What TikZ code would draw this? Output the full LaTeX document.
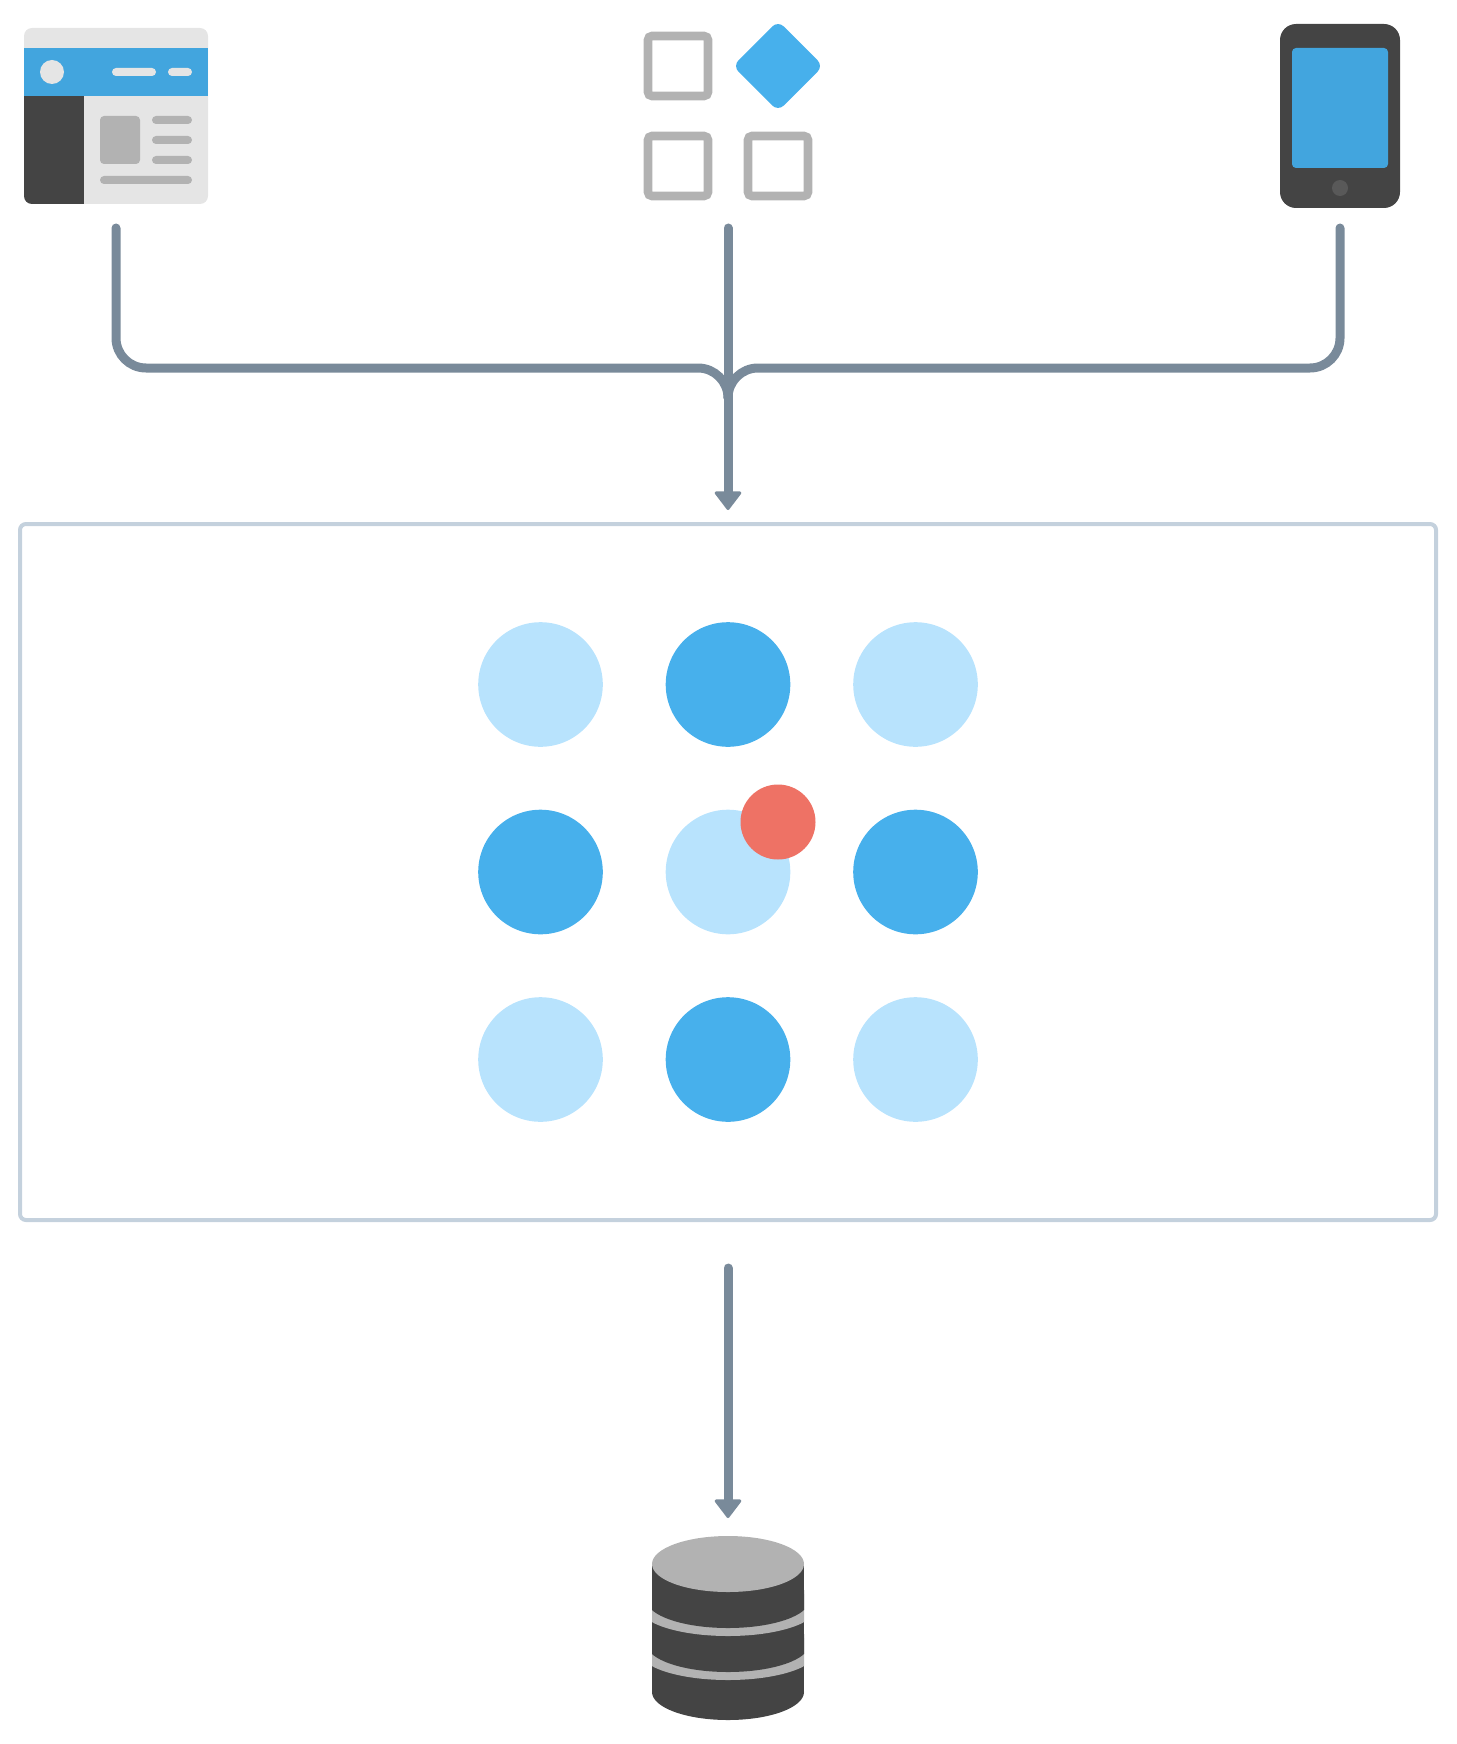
\documentclass[tikz,border=0pt]{standalone}
\usepackage{xcolor}
\usetikzlibrary{arrows.meta,shapes.geometric}
\definecolor{iconblue}{HTML}{42A5DE}
\definecolor{dotblue}{HTML}{47B0EC}
\definecolor{dotpale}{HTML}{B8E3FD}
\definecolor{dotred}{HTML}{EE7265}
\definecolor{darkgrey}{HTML}{444444}
\definecolor{midgrey}{HTML}{B2B2B2}
\definecolor{palegrey}{HTML}{E5E5E5}
\definecolor{homegrey}{HTML}{595959}
\definecolor{flowgrey}{HTML}{798A9A}
\definecolor{framegrey}{HTML}{C4D1DD}
\tikzset{
  plain/.style={rectangle,draw=none,inner sep=0pt,outer sep=0pt},
  tile/.style={plain,draw=midgrey,line width=4.3pt,minimum size=30pt,rounded corners=2pt},
  dotpalefill/.style={plain,circle,fill=dotpale,minimum size=62.3pt},
  dotbluefill/.style={plain,circle,fill=dotblue,minimum size=62.3pt},
  flow/.style={draw=flowgrey,line width=4.5pt,line cap=round},
  flowarrow/.style={flow,-{Triangle[length=9.8pt,width=14.5pt,round,line width=1.5pt]}}
}
\begin{document}
\begin{tikzpicture}[x=0.5pt,y=-0.5pt]
\useasboundingbox (0,0) rectangle (1456,1744);
\node[plain,fill=palegrey,minimum width=92pt,minimum height=88pt,rounded corners=4pt] (browser) at (116,116) {};
\begin{scope}
\clip[rounded corners=4pt] (24,28) rectangle (208,204);
\fill[iconblue] (24,48) rectangle (208,96);
\fill[darkgrey] (24,96) rectangle (84,204);
\end{scope}
\node[plain,circle,fill=palegrey,minimum size=12pt] (avatar) at (52,72) {};
\node[plain,fill=palegrey,minimum width=22pt,minimum height=4pt,rounded corners=2pt] (menuwide) at (134,72) {};
\node[plain,fill=palegrey,minimum width=12pt,minimum height=4pt,rounded corners=2pt] (menushort) at (180,72) {};
\node[plain,fill=midgrey,minimum width=20pt,minimum height=24pt,rounded corners=2pt] (picture) at (120,140) {};
\node[plain,fill=midgrey,minimum width=20pt,minimum height=4pt,rounded corners=2pt] (textone) at (172,120) {};
\node[plain,fill=midgrey,minimum width=20pt,minimum height=4pt,rounded corners=2pt] (texttwo) at (172,140) {};
\node[plain,fill=midgrey,minimum width=20pt,minimum height=4pt,rounded corners=2pt] (textthree) at (172,160) {};
\node[plain,fill=midgrey,minimum width=46pt,minimum height=4pt,rounded corners=2pt] (textlong) at (146,180) {};
\node[tile] (tileone) at (678,66) {};
\node[plain,fill=dotblue,minimum size=32pt,rounded corners=4pt,rotate=45] (tilediamond) at (778,66) {};
\node[tile] (tiletwo) at (678,166) {};
\node[tile] (tilethree) at (778,166) {};
\node[plain,fill=darkgrey,minimum width=60pt,minimum height=92pt,rounded corners=8pt] (phone) at (1340,116) {};
\node[plain,fill=iconblue,minimum width=48pt,minimum height=60pt,rounded corners=2pt] (screen) at (1340,108) {};
\node[plain,circle,fill=homegrey,minimum size=8pt] (homekey) at (1340,188) {};
\coordinate (browserout) at (116,228);
\coordinate (tilesout) at (728,228);
\coordinate (phoneout) at (1340,228);
\coordinate (merge) at (728,368);
\coordinate (joint) at (728,398);
\coordinate (framein) at (728,510);
\draw[flow,rounded corners=15pt] (browserout) |- (merge) -- (joint);
\draw[flow,rounded corners=15pt] (phoneout) |- (merge) -- (joint);
\draw[flowarrow] (tilesout) -- (framein);
\node[plain,draw=framegrey,line width=2pt,minimum width=708pt,minimum height=348pt,rounded corners=3pt] (frame) at (728,872) {};
\node[dotpalefill] (dotnw) at (540.5,684.5) {};
\node[dotbluefill] (dotn) at (728,684.5) {};
\node[dotpalefill] (dotne) at (915.5,684.5) {};
\node[dotbluefill] (dotw) at (540.5,872) {};
\node[dotpalefill] (dotc) at (728,872) {};
\node[dotbluefill] (dote) at (915.5,872) {};
\node[dotpalefill] (dotsw) at (540.5,1059.5) {};
\node[dotbluefill] (dots) at (728,1059.5) {};
\node[dotpalefill] (dotse) at (915.5,1059.5) {};
\node[plain,circle,fill=dotred,minimum size=37.5pt] (marker) at (778,822) {};
\coordinate (frameout) at (728,1268);
\coordinate (dbin) at (728,1518);
\draw[flowarrow] (frameout) -- (dbin);
\fill[darkgrey] (652,1564) rectangle (804,1692);
\fill[darkgrey] (728,1692) ellipse [x radius=76,y radius=28];
\begin{scope}
\clip (652,1564) rectangle (804,1720);
\fill[midgrey] (728,1652) ellipse [x radius=88,y radius=28];
\fill[darkgrey] (728,1644) ellipse [x radius=81.4,y radius=28];
\fill[midgrey] (728,1608) ellipse [x radius=88,y radius=28];
\fill[darkgrey] (728,1600) ellipse [x radius=81.4,y radius=28];
\end{scope}
\node[plain,ellipse,fill=midgrey,minimum width=76pt,minimum height=28pt] (dbtop) at (728,1564) {};
\end{tikzpicture}
\end{document}
